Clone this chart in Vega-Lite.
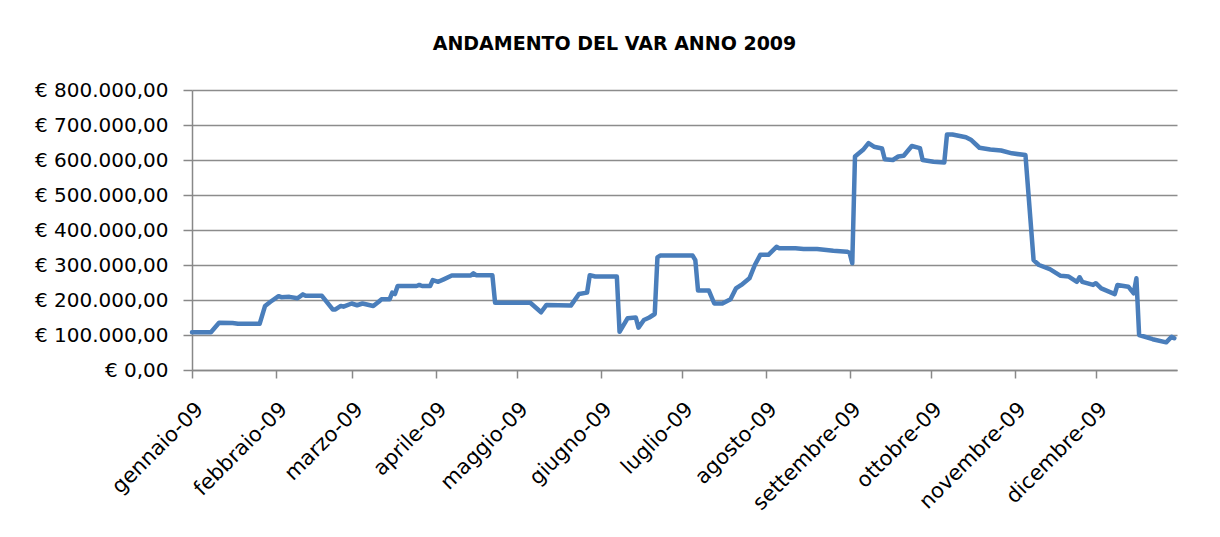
{
  "$schema": "https://vega.github.io/schema/vega-lite/v6.json",
  "autosize": {"type": "none"},
  "width": 985,
  "height": 280,
  "padding": {"left": 192, "top": 90, "right": 43, "bottom": 167},
  "background": "white",
  "title": {
    "text": "ANDAMENTO DEL VAR ANNO 2009",
    "font": "DejaVu Sans",
    "fontSize": 19,
    "fontWeight": "bold",
    "color": "#000000",
    "anchor": "middle",
    "dx": -70,
    "offset": 26
  },
  "data": {
    "values": [
      {"d": "2009-01-01", "v": 108000},
      {"d": "2009-01-08", "v": 108000},
      {"d": "2009-01-11", "v": 135000},
      {"d": "2009-01-16", "v": 134000},
      {"d": "2009-01-18", "v": 132000},
      {"d": "2009-01-26", "v": 132000},
      {"d": "2009-01-28", "v": 183000},
      {"d": "2009-01-30", "v": 195000},
      {"d": "2009-02-02", "v": 211000},
      {"d": "2009-02-03", "v": 208000},
      {"d": "2009-02-06", "v": 209000},
      {"d": "2009-02-09", "v": 205000},
      {"d": "2009-02-11", "v": 216000},
      {"d": "2009-02-12", "v": 212000},
      {"d": "2009-02-18", "v": 212000},
      {"d": "2009-02-22", "v": 173000},
      {"d": "2009-02-23", "v": 173000},
      {"d": "2009-02-25", "v": 183000},
      {"d": "2009-02-26", "v": 181000},
      {"d": "2009-03-01", "v": 190000},
      {"d": "2009-03-03", "v": 185000},
      {"d": "2009-03-05", "v": 190000},
      {"d": "2009-03-09", "v": 183000},
      {"d": "2009-03-11", "v": 195000},
      {"d": "2009-03-12", "v": 202000},
      {"d": "2009-03-15", "v": 202000},
      {"d": "2009-03-16", "v": 221000},
      {"d": "2009-03-17", "v": 217000},
      {"d": "2009-03-18", "v": 240000},
      {"d": "2009-03-25", "v": 240000},
      {"d": "2009-03-26", "v": 243000},
      {"d": "2009-03-27", "v": 240000},
      {"d": "2009-03-30", "v": 240000},
      {"d": "2009-03-31", "v": 257000},
      {"d": "2009-04-02", "v": 252000},
      {"d": "2009-04-04", "v": 259000},
      {"d": "2009-04-07", "v": 270000},
      {"d": "2009-04-14", "v": 270000},
      {"d": "2009-04-15", "v": 276000},
      {"d": "2009-04-16", "v": 271000},
      {"d": "2009-04-22", "v": 271000},
      {"d": "2009-04-23", "v": 192000},
      {"d": "2009-05-06", "v": 192000},
      {"d": "2009-05-10", "v": 165000},
      {"d": "2009-05-12", "v": 186000},
      {"d": "2009-05-21", "v": 184000},
      {"d": "2009-05-24", "v": 217000},
      {"d": "2009-05-27", "v": 221000},
      {"d": "2009-05-28", "v": 271000},
      {"d": "2009-05-30", "v": 267000},
      {"d": "2009-06-07", "v": 267000},
      {"d": "2009-06-08", "v": 109000},
      {"d": "2009-06-11", "v": 148000},
      {"d": "2009-06-14", "v": 150000},
      {"d": "2009-06-15", "v": 121000},
      {"d": "2009-06-17", "v": 143000},
      {"d": "2009-06-19", "v": 150000},
      {"d": "2009-06-21", "v": 160000},
      {"d": "2009-06-22", "v": 322000},
      {"d": "2009-06-23", "v": 327000},
      {"d": "2009-07-05", "v": 327000},
      {"d": "2009-07-06", "v": 314000},
      {"d": "2009-07-07", "v": 227000},
      {"d": "2009-07-11", "v": 227000},
      {"d": "2009-07-13", "v": 190000},
      {"d": "2009-07-16", "v": 190000},
      {"d": "2009-07-19", "v": 202000},
      {"d": "2009-07-21", "v": 233000},
      {"d": "2009-07-23", "v": 243000},
      {"d": "2009-07-26", "v": 262000},
      {"d": "2009-07-28", "v": 300000},
      {"d": "2009-07-30", "v": 329000},
      {"d": "2009-08-02", "v": 329000},
      {"d": "2009-08-05", "v": 352000},
      {"d": "2009-08-06", "v": 348000},
      {"d": "2009-08-12", "v": 348000},
      {"d": "2009-08-15", "v": 346000},
      {"d": "2009-08-20", "v": 346000},
      {"d": "2009-08-26", "v": 341000},
      {"d": "2009-08-31", "v": 338000},
      {"d": "2009-09-01", "v": 335000},
      {"d": "2009-09-02", "v": 305000},
      {"d": "2009-09-03", "v": 610000},
      {"d": "2009-09-06", "v": 629000},
      {"d": "2009-09-08", "v": 648000},
      {"d": "2009-09-10", "v": 638000},
      {"d": "2009-09-13", "v": 633000},
      {"d": "2009-09-14", "v": 602000},
      {"d": "2009-09-17", "v": 600000},
      {"d": "2009-09-19", "v": 610000},
      {"d": "2009-09-21", "v": 612000},
      {"d": "2009-09-24", "v": 640000},
      {"d": "2009-09-27", "v": 634000},
      {"d": "2009-09-28", "v": 600000},
      {"d": "2009-10-02", "v": 595000},
      {"d": "2009-10-06", "v": 593000},
      {"d": "2009-10-07", "v": 673000},
      {"d": "2009-10-09", "v": 673000},
      {"d": "2009-10-14", "v": 665000},
      {"d": "2009-10-16", "v": 657000},
      {"d": "2009-10-19", "v": 635000},
      {"d": "2009-10-23", "v": 630000},
      {"d": "2009-10-27", "v": 627000},
      {"d": "2009-10-31", "v": 619000},
      {"d": "2009-11-05", "v": 614000},
      {"d": "2009-11-08", "v": 314000},
      {"d": "2009-11-10", "v": 300000},
      {"d": "2009-11-14", "v": 288000},
      {"d": "2009-11-18", "v": 269000},
      {"d": "2009-11-21", "v": 267000},
      {"d": "2009-11-24", "v": 252000},
      {"d": "2009-11-25", "v": 265000},
      {"d": "2009-11-26", "v": 252000},
      {"d": "2009-11-30", "v": 243000},
      {"d": "2009-12-01", "v": 248000},
      {"d": "2009-12-03", "v": 233000},
      {"d": "2009-12-08", "v": 217000},
      {"d": "2009-12-09", "v": 243000},
      {"d": "2009-12-13", "v": 238000},
      {"d": "2009-12-15", "v": 219000},
      {"d": "2009-12-16", "v": 262000},
      {"d": "2009-12-17", "v": 100000},
      {"d": "2009-12-22", "v": 88000},
      {"d": "2009-12-27", "v": 79000},
      {"d": "2009-12-29", "v": 95000},
      {"d": "2009-12-30", "v": 91000}
    ]
  },
  "mark": {"type": "line", "color": "#4A7EBB", "strokeWidth": 4.5, "strokeJoin": "round", "strokeCap": "round"},
  "encoding": {
    "x": {
      "field": "d",
      "type": "temporal",
      "scale": {
        "type": "utc",
        "domain": [
          {"year": 2009, "month": 1, "date": 1, "utc": true},
          {"year": 2009, "month": 12, "date": 31, "utc": true}
        ]
      },
      "axis": {
        "title": null,
        "grid": false,
        "values": [
          {"year": 2009, "month": 1, "date": 1, "utc": true},
          {"year": 2009, "month": 2, "date": 1, "utc": true},
          {"year": 2009, "month": 3, "date": 1, "utc": true},
          {"year": 2009, "month": 4, "date": 1, "utc": true},
          {"year": 2009, "month": 5, "date": 1, "utc": true},
          {"year": 2009, "month": 6, "date": 1, "utc": true},
          {"year": 2009, "month": 7, "date": 1, "utc": true},
          {"year": 2009, "month": 8, "date": 1, "utc": true},
          {"year": 2009, "month": 9, "date": 1, "utc": true},
          {"year": 2009, "month": 10, "date": 1, "utc": true},
          {"year": 2009, "month": 11, "date": 1, "utc": true},
          {"year": 2009, "month": 12, "date": 1, "utc": true}
        ],
        "labelExpr": "['gennaio','febbraio','marzo','aprile','maggio','giugno','luglio','agosto','settembre','ottobre','novembre','dicembre'][utcmonth(datum.value)] + '-09'",
        "labelAngle": -45,
        "labelFont": "DejaVu Sans",
        "labelFontSize": 21,
        "labelColor": "#000000",
        "labelPadding": 20,
        "labelOverlap": false,
        "labelFlush": false,
        "domainColor": "#888888",
        "domainWidth": 1.5,
        "tickColor": "#888888",
        "tickSize": 8,
        "tickWidth": 1.5
      }
    },
    "y": {
      "field": "v",
      "type": "quantitative",
      "scale": {"domain": [0, 800000]},
      "axis": {
        "title": null,
        "values": [0, 100000, 200000, 300000, 400000, 500000, 600000, 700000, 800000],
        "labelExpr": "datum.value == 0 ? '€ 0,00' : '€ ' + format(datum.value / 1000, 'd') + '.000,00'",
        "labelFont": "DejaVu Sans",
        "labelFontSize": 20,
        "labelColor": "#000000",
        "labelPadding": 15,
        "domainColor": "#888888",
        "domainWidth": 1.5,
        "tickColor": "#888888",
        "tickSize": 9,
        "tickWidth": 1.5,
        "gridColor": "#8c8c8c",
        "gridWidth": 1.5
      }
    }
  },
  "config": {
    "view": {"stroke": null}
  }
}
